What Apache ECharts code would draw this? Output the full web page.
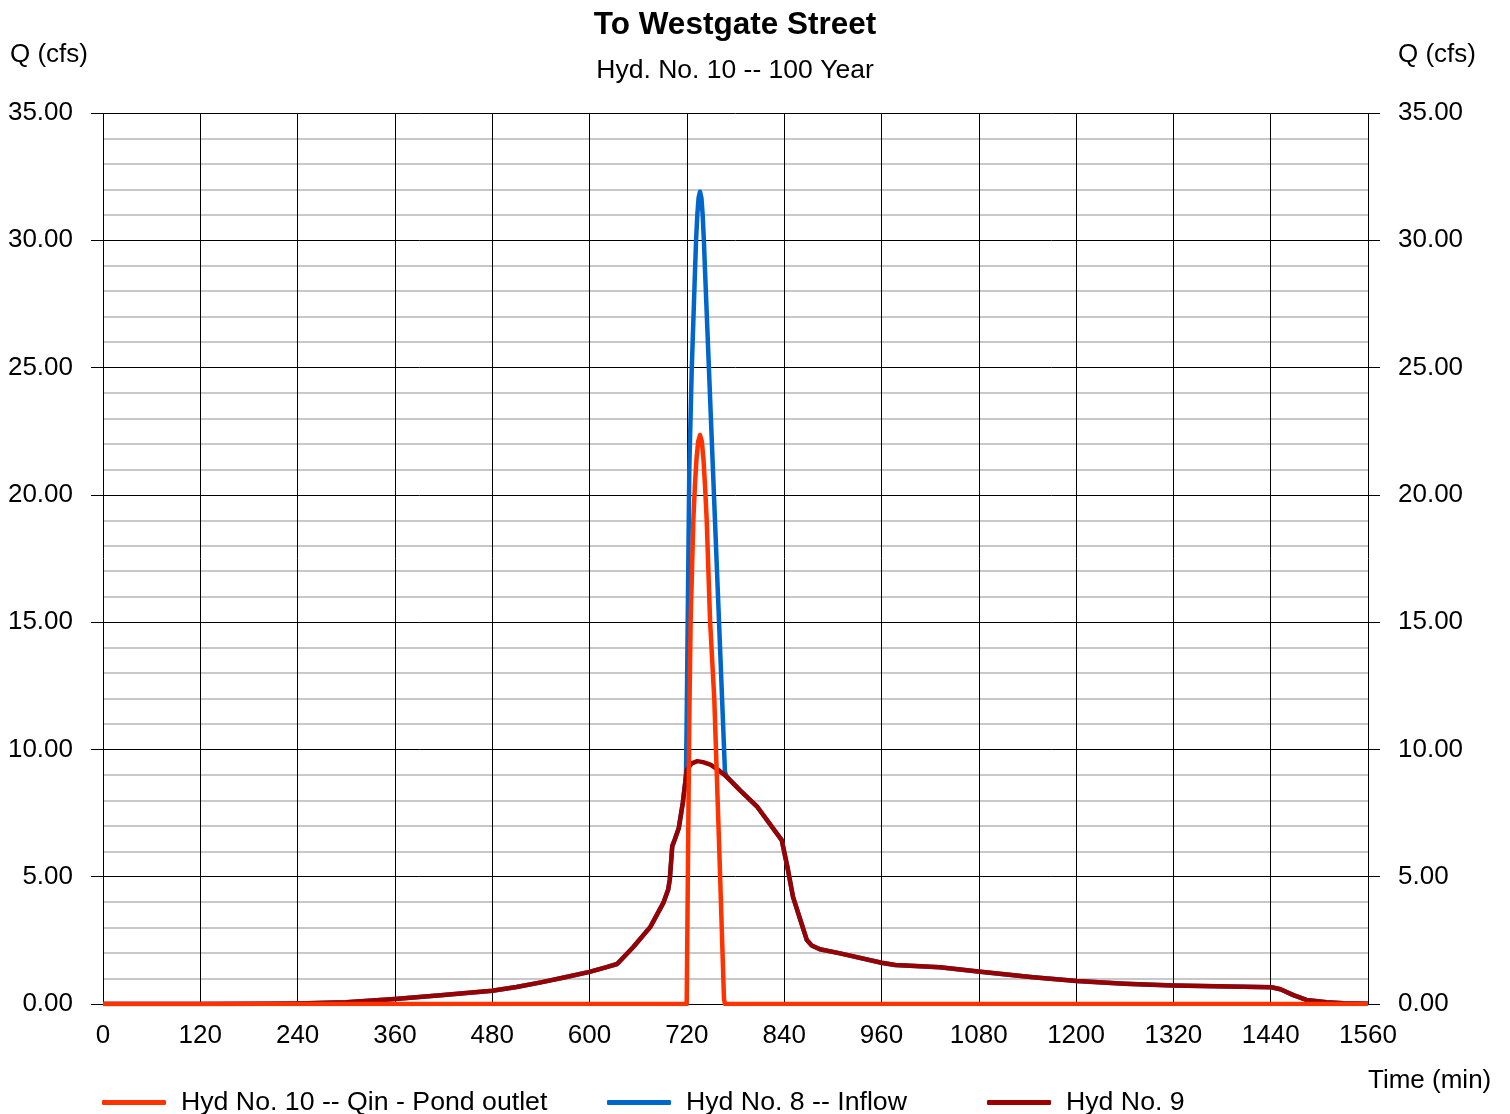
<!DOCTYPE html>
<html>
<head>
<meta charset="utf-8">
<script src="https://cdn.jsdelivr.net/npm/echarts@6/dist/echarts.min.js"></script>
<style>
html,body{margin:0;padding:0;background:#fff;}
#chart{width:1510px;height:1114px;}
</style>
</head>
<body>
<div id="chart"></div>
<script>
// ---- Data ----
var titleText = 'To Westgate Street';
var subtitleText = 'Hyd. No. 10 -- 100 Year';
var seriesNames = ['Hyd No. 10 -- Qin - Pond outlet', 'Hyd No. 8 -- Inflow', 'Hyd No. 9'];
var xTicks = [0, 120, 240, 360, 480, 600, 720, 840, 960, 1080, 1200, 1320, 1440, 1560];
var yTicks = [0, 5, 10, 15, 20, 25, 30, 35];

// Hyd No. 9 (time in min, Q in cfs)
var hyd9Time = [0, 120, 200, 240, 300, 360, 420, 480, 510, 540, 570, 600, 621, 634, 654, 675, 691, 697, 699, 702, 705, 710, 715, 718, 720, 726, 733, 740, 749, 759, 769, 786, 807, 837, 844, 851, 860, 868, 874, 884, 909, 960, 977, 1032, 1082, 1147, 1201, 1260, 1320, 1441, 1452, 1468, 1484, 1509, 1530, 1560];
var hyd9Q    = [0, 0, 0.01, 0.02, 0.07, 0.2, 0.35, 0.52, 0.67, 0.85, 1.05, 1.26, 1.45, 1.57, 2.24, 3.03, 3.97, 4.5, 4.9, 6.2, 6.45, 6.9, 7.9, 8.7, 9.2, 9.45, 9.54, 9.5, 9.4, 9.19, 8.93, 8.38, 7.74, 6.44, 5.38, 4.2, 3.3, 2.51, 2.3, 2.15, 1.99, 1.62, 1.53, 1.44, 1.27, 1.05, 0.9, 0.8, 0.73, 0.66, 0.58, 0.35, 0.16, 0.07, 0.03, 0.01];

// Hyd No. 8 peak portion (outside it, Hyd No. 8 coincides with Hyd No. 9)
var hyd8PeakTime = [719, 719.8, 723, 726, 730.1, 731.5, 733, 734.5, 736.2, 738, 739.5, 741, 742.4, 747.3, 752.2, 759.6, 764.5, 767];
var hyd8PeakQ    = [9.1, 11.15, 20.98, 24.9, 28.83, 30.1, 31.05, 31.67, 31.91, 31.65, 31.0, 30.0, 28.83, 24.9, 20.98, 15.08, 11.15, 9.12];

// Hyd No. 10
var hyd10Time = [0, 719.8, 723, 724.7, 728, 730, 732, 734, 736.2, 738.5, 740.5, 742.5, 744.5, 748.6, 753.9, 760, 765.8, 767, 1560];
var hyd10Q    = [0, 0, 11.15, 15.08, 19.0, 20.4, 21.45, 22.1, 22.35, 22.1, 21.4, 20.3, 19.0, 15.08, 11.94, 6.05, 0.2, 0, 0];

// ---- Build series data ----
function pairs(t, q) { return t.map(function (v, i) { return [v, q[i]]; }); }
var hyd9Data = pairs(hyd9Time, hyd9Q);
var peakStart = hyd8PeakTime[0], peakEnd = hyd8PeakTime[hyd8PeakTime.length - 1];
var hyd8Data = hyd9Data.filter(function (p) { return p[0] < peakStart; })
  .concat(pairs(hyd8PeakTime, hyd8PeakQ))
  .concat(hyd9Data.filter(function (p) { return p[0] > peakEnd; }));
var hyd10Data = pairs(hyd10Time, hyd10Q);

var colors = ['#ff3300', '#0066cc', '#990000'];
var FONT = '"Liberation Sans", Arial, sans-serif';
var chart = echarts.init(document.getElementById('chart'));

function yAxisDef(pos) {
  return {
    type: 'value', position: pos, min: yTicks[0], max: yTicks[yTicks.length - 1], interval: 5,
    axisLine: { show: false },
    axisTick: { show: true, length: 12, lineStyle: { color: '#000', width: 1 } },
    axisLabel: { color: '#000', fontSize: 26, fontFamily: FONT, margin: 30,
      formatter: function (v) { return v.toFixed(2); } },
    splitLine: { show: pos === 'left', lineStyle: { color: '#000', width: 1 } },
    minorTick: { show: false, splitNumber: 5 },
    minorSplitLine: { show: pos === 'left', lineStyle: { color: '#c8c8c8', width: 2 } }
  };
}

function legendDef(name, left) {
  return {
    data: [name], left: left, top: 1084, orient: 'horizontal',
    itemWidth: 64, itemHeight: 5, icon: 'roundRect',
    selectedMode: false,
    textStyle: { color: '#000', fontSize: 26.7, fontFamily: FONT, padding: [0, 0, 0, 10] }
  };
}

chart.setOption({
  backgroundColor: '#fff',
  animation: false,
  color: colors,
  title: {
    text: titleText, subtext: subtitleText, left: 730, textAlign: 'center', top: 4, itemGap: 16,
    textStyle: { color: '#000', fontSize: 31.5, fontWeight: 'bold', fontFamily: FONT },
    subtextStyle: { color: '#000', fontSize: 26.5, fontFamily: FONT }
  },
  legend: [legendDef(seriesNames[0], 97), legendDef(seriesNames[1], 602), legendDef(seriesNames[2], 982)],
  grid: { left: 103, right: 142, top: 113, bottom: 110, containLabel: false },
  xAxis: {
    type: 'value', min: xTicks[0], max: xTicks[xTicks.length - 1], interval: 120,
    axisLine: { show: true, lineStyle: { color: '#000', width: 1 } },
    axisTick: { show: false },
    axisLabel: { color: '#000', fontSize: 26, fontFamily: FONT, margin: 19, showMinLabel: true, showMaxLabel: true,
      formatter: function (v) { return String(v); } },
    splitLine: { show: true, lineStyle: { color: '#000', width: 1 } }
  },
  yAxis: [yAxisDef('left'), yAxisDef('right')],
  graphic: [
    { type: 'text', left: 10, top: 42, style: { text: 'Q (cfs)', fill: '#000', font: '26px ' + FONT } },
    { type: 'text', left: 1398, top: 42, style: { text: 'Q (cfs)', fill: '#000', font: '26px ' + FONT } },
    { type: 'text', left: 1368, top: 1068, style: { text: 'Time (min)', fill: '#000', font: '26px ' + FONT } }
  ],
  series: [
    { name: seriesNames[1], type: 'line', data: hyd8Data, showSymbol: false, symbol: 'none', z: 2,
      lineStyle: { color: colors[1], width: 4.5, join: 'round' }, itemStyle: { color: colors[1] } },
    { name: seriesNames[2], type: 'line', data: hyd9Data, showSymbol: false, symbol: 'none', z: 3,
      lineStyle: { color: colors[2], width: 4.5, join: 'round' }, itemStyle: { color: colors[2] } },
    { name: seriesNames[0], type: 'line', data: hyd10Data, showSymbol: false, symbol: 'none', z: 4,
      lineStyle: { color: colors[0], width: 4.5, join: 'round' }, itemStyle: { color: colors[0] } }
  ]
});
</script>
</body>
</html>
